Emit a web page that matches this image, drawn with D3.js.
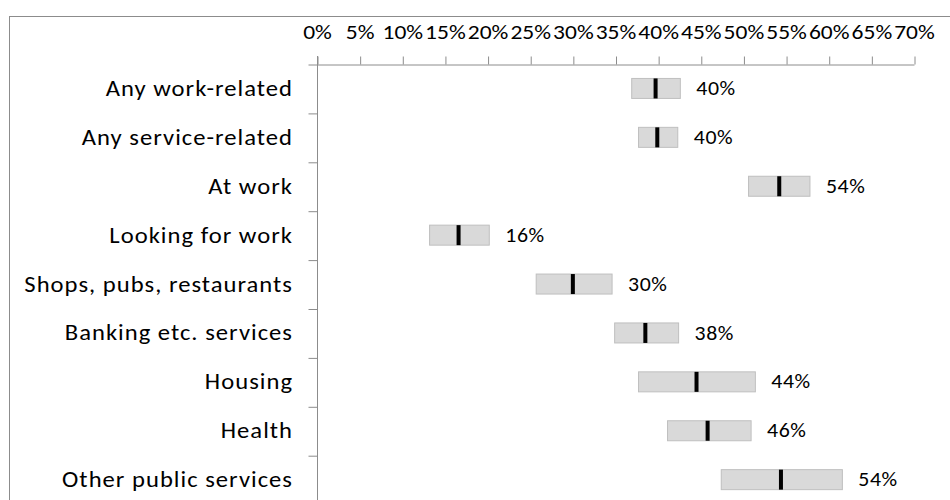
<!DOCTYPE html>
<html><head><meta charset="utf-8">
<script src="https://cdn.jsdelivr.net/npm/d3@7"></script>
<style>
html,body{margin:0;padding:0;background:#fff;}
svg{display:block;}
text{font-family:Carlito, Lato, sans-serif;fill:#000;}
</style></head>
<body><svg id="c" width="950" height="500"></svg>
<script>
const categories = ["Any work-related","Any service-related","At work","Looking for work","Shops, pubs, restaurants","Banking etc. services","Housing","Health","Other public services"];
const lowValues  = [36.9, 37.7, 50.6, 13.2, 25.7, 34.9, 37.7, 41.1, 47.4];
const highValues = [42.6, 42.3, 57.8, 20.2, 34.6, 42.4, 51.4, 50.9, 61.6];
const estimates  = [39.7, 39.9, 54.2, 16.6, 30.0, 38.5, 44.5, 45.8, 54.4];
const valueLabels = ["40%","40%","54%","16%","30%","38%","44%","46%","54%"];
const xTicks = [0,5,10,15,20,25,30,35,40,45,50,55,60,65,70];

const svg = d3.select("#c");
const SX = 1.12;
const rows = categories.map((c,i)=>({c, lo:lowValues[i], hi:highValues[i], est:estimates[i], lab:valueLabels[i]}));

// outer border (chart continues past the picture edges)
svg.append("rect").attr("x",9.5).attr("y",16.5).attr("width",1000).attr("height",600)
  .attr("fill","none").attr("stroke","#8c8c8c").attr("stroke-width",1);

const x = d3.scaleLinear().domain([0,70]).range([317,914]);
const y = d3.scaleBand().domain(categories).range([64, 64+9*48.9]).padding(0);
const yEdge = d3.scaleLinear().domain([0,categories.length]).range([64, 64+9*48.9]);

// x axis
const gx = svg.append("g").attr("transform","translate(0,64.5)")
  .call(d3.axisTop(x).tickValues(xTicks).tickSizeInner(8).tickSizeOuter(0).tickPadding(18).tickFormat(d=>d+"%"));
gx.selectAll("path,line").attr("stroke","#8c8c8c");
gx.selectAll("text").attr("font-size",21).attr("font-family","Carlito, Lato, sans-serif").attr("fill","#000")
  .attr("transform",`scale(${SX},1)`);
gx.selectAll(".tick line").attr("transform","translate(0.5,0)");

// y axis (lines at category boundaries)
const gy = svg.append("g").attr("transform","translate(317.5,0)")
  .call(d3.axisLeft(yEdge).tickValues(d3.range(0,categories.length+1)).tickSizeInner(9).tickSizeOuter(0).tickFormat(""));
gy.selectAll("path,line").attr("stroke","#8c8c8c");
gy.select(".domain").attr("d",`M0,${56}V${520}`);
gy.selectAll(".tick line").attr("transform","translate(0,0.5)");

// category labels
svg.append("g").selectAll("text").data(rows).join("text")
  .attr("transform",d=>`translate(293,${y(d.c)+y.bandwidth()/2}) scale(${SX},1)`)
  .attr("text-anchor","end").attr("dominant-baseline","central")
  .attr("letter-spacing",0.9)
  .attr("font-size",22).text(d=>d.c);

const bh = 20;
const bars = svg.append("g").selectAll("g").data(rows).join("g");
bars.append("rect")
  .attr("x",d=>x(d.lo)).attr("width",d=>x(d.hi)-x(d.lo))
  .attr("y",d=>y(d.c)+y.bandwidth()/2-bh/2).attr("height",bh)
  .attr("fill","#d9d9d9").attr("stroke","#bfbfbf").attr("stroke-width",1);
bars.append("rect")
  .attr("x",d=>x(d.est)-2).attr("width",4)
  .attr("y",d=>y(d.c)+y.bandwidth()/2-bh/2).attr("height",bh)
  .attr("fill","#000");
bars.append("text")
  .attr("transform",d=>`translate(${x(d.hi)+16},${y(d.c)+y.bandwidth()/2}) scale(${SX},1)`)
  .attr("dominant-baseline","central").attr("letter-spacing",0.5)
  .attr("font-size",19.5).text(d=>d.lab);
</script></body></html>
